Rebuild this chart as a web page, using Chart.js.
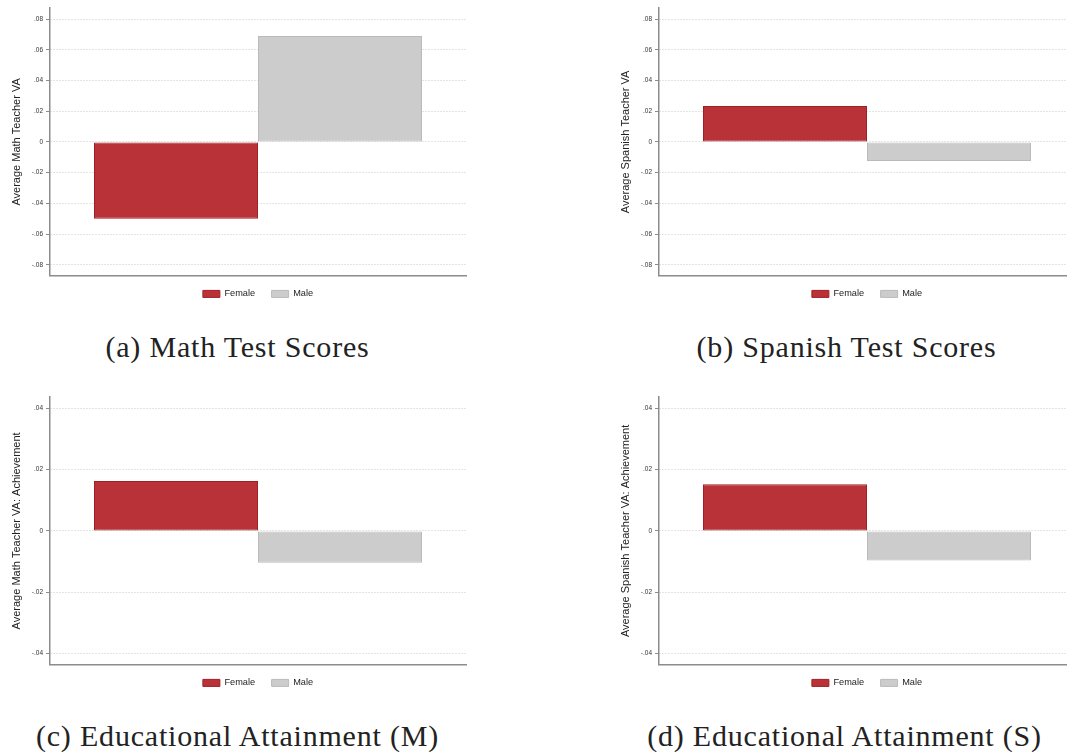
<!DOCTYPE html>
<html>
<head>
<meta charset="utf-8">
<script src="https://cdn.jsdelivr.net/npm/chart.js@4/dist/chart.umd.min.js"></script>
<style>
  html, body { margin: 0; padding: 0; background: #fff; overflow: hidden; }
  body { width: 1067px; height: 753px; position: relative; }
  canvas { position: absolute; }
  .caption {
    position: absolute; width: 475px; text-align: center;
    font-family: "Liberation Serif", "DejaVu Serif", serif;
    font-size: 30px; line-height: 30px; letter-spacing: 0.8px;
    color: #222; white-space: nowrap;
  }
</style>
</head>
<body>
<canvas id="pa" width="475" height="312" style="left:0px;top:0px"></canvas>
<canvas id="pb" width="475" height="312" style="left:609px;top:0px"></canvas>
<canvas id="pc" width="475" height="312" style="left:0px;top:389px"></canvas>
<canvas id="pd" width="475" height="312" style="left:609px;top:389px"></canvas>
<div class="caption" id="ca" style="left:0px;top:332px"></div>
<div class="caption" id="cb" style="left:609px;top:332px"></div>
<div class="caption" id="cc" style="left:0px;top:721px"></div>
<div class="caption" id="cd" style="left:607px;top:721px"></div>
<script>
// Groups and average teacher value added by teacher gender
const groups = ['Female', 'Male'];
const mathVA = [-0.050, 0.069];
const spanishVA = [0.0233, -0.0125];
const mathAttainVA = [0.0163, -0.0104];
const spanishAttainVA = [0.0152, -0.0097];

// Y-axis ticks
const testTicks = [-0.08, -0.06, -0.04, -0.02, 0, 0.02, 0.04, 0.06, 0.08];
const testTickLabels = ['-.08', '-.06', '-.04', '-.02', '0', '.02', '.04', '.06', '.08'];
const attainTicks = [-0.04, -0.02, 0, 0.02, 0.04];
const attainTickLabels = ['-.04', '-.02', '0', '.02', '.04'];

// Titles
const axisTitles = [
  'Average Math Teacher VA',
  'Average Spanish Teacher VA',
  'Average Math Teacher VA: Achievement',
  'Average Spanish Teacher VA: Achievement'
];
const captions = [
  '(a) Math Test Scores',
  '(b) Spanish Test Scores',
  '(c) Educational Attainment (M)',
  '(d) Educational Attainment (S)'
];

const fillColors = ['#b93237', '#cccccc'];
const edgeColors = ['#a21f26', '#bababa'];

// Pull the legend row a little closer to the x axis
const legendLift = {
  id: 'legendLift',
  afterLayout(chart) {
    const l = chart.legend;
    if (l) { l.top -= 3; l.bottom -= 3; }
  }
};

function drawPanel(id, values, yTitle, ticks, tickLabels, bound) {
  const datasets = groups.map((g, i) => ({
    label: g,
    data: [values[i]],
    backgroundColor: fillColors[i],
    borderColor: edgeColors[i],
    borderWidth: 1,
    borderSkipped: false,
    categoryPercentage: 0.7885,
    barPercentage: 1.0
  }));
  new Chart(document.getElementById(id), {
    type: 'bar',
    data: { labels: [''], datasets },
    plugins: [legendLift],
    options: {
      responsive: false,
      animation: false,
      events: [],
      layout: { padding: { top: 8, left: 0, right: 9, bottom: 0.5 } },
      plugins: {
        tooltip: { enabled: false },
        legend: {
          position: 'bottom',
          fullSize: false,
          labels: {
            boxWidth: 17,
            boxHeight: 7,
            padding: 16.5,
            color: '#222',
            font: { family: '"Liberation Sans", Arial, sans-serif', size: 9.2 }
          }
        }
      },
      scales: {
        x: {
          grid: { display: false, drawTicks: false },
          ticks: { display: false },
          border: { display: true, color: '#8c8c8c', width: 1.5 }
        },
        y: {
          min: -bound,
          max: bound,
          afterBuildTicks: s => { s.ticks = ticks.map(v => ({ value: v })); },
          afterFit: s => { s.width = 50; },
          ticks: {
            padding: 3,
            color: '#333',
            font: { family: '"Liberation Sans", Arial, sans-serif', size: 6.5 },
            callback: (v, i) => tickLabels[i]
          },
          grid: {
            color: '#c8c8c8',
            lineWidth: 1,
            drawTicks: true,
            tickLength: 4,
            tickColor: '#8c8c8c',
            tickBorderDash: []
          },
          border: { display: true, color: '#8c8c8c', width: 1.5, dash: [1, 2] },
          title: {
            display: true,
            text: yTitle,
            color: '#222',
            padding: { top: 10.5, bottom: 0 },
            font: { family: '"Liberation Sans", Arial, sans-serif', size: 11 }
          }
        }
      }
    }
  });
}

drawPanel('pa', mathVA, axisTitles[0], testTicks, testTickLabels, 0.0872);
drawPanel('pb', spanishVA, axisTitles[1], testTicks, testTickLabels, 0.0872);
drawPanel('pc', mathAttainVA, axisTitles[2], attainTicks, attainTickLabels, 0.0437);
drawPanel('pd', spanishAttainVA, axisTitles[3], attainTicks, attainTickLabels, 0.0437);

['ca', 'cb', 'cc', 'cd'].forEach((id, i) => {
  document.getElementById(id).textContent = captions[i];
});
</script>
</body>
</html>
